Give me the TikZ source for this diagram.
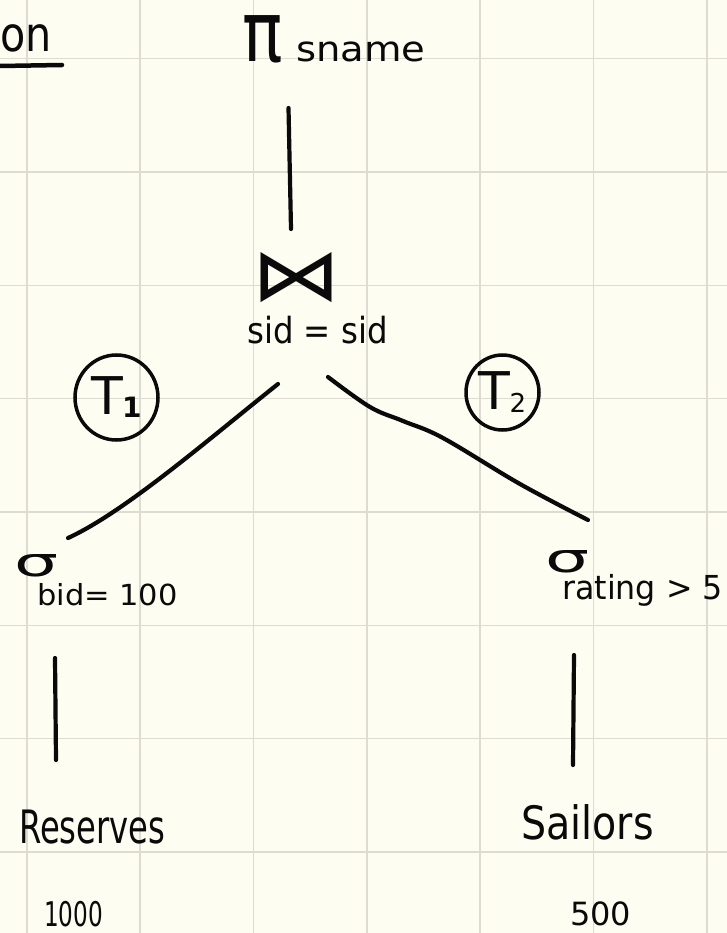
\documentclass[tikz,border=0pt]{standalone}
\usepackage{fontspec}
\setmainfont{DejaVu Sans}
\usepackage{graphicx}
\usetikzlibrary{shapes.geometric}

\definecolor{paper}{HTML}{FEFDF1}
\definecolor{gridline}{HTML}{DEDCD2}
\definecolor{ink}{HTML}{0A0A0A}

% #1 font size (pt), #2 horizontal stretch, #3 text
\newcommand{\hand}[3]{\scalebox{#2}[1]{\fontsize{#1}{#1}\selectfont #3}}

\tikzset{
  lbl/.style={inner sep=0pt, anchor=base west, text=ink},
  pen/.style={draw=ink, line width=4.2pt, line cap=round, line join=round},
  ring/.style={draw=ink, line width=3.5pt, ellipse, inner sep=0pt, text=ink},
  gridrule/.style={draw=gridline, line width=1.6pt},
}

\begin{document}
\begin{tikzpicture}[x=1pt,y=-1pt]
  % squared paper
  \fill[paper] (0,0) rectangle (727,933);
  \useasboundingbox (0,0) rectangle (727,933);
  \foreach \gx in {26.7,140,253.3,366.7,480,593.3,706.7}
    \draw[gridrule] (\gx,0) -- (\gx,933);
  \foreach \gy in {58.7,172,285.3,398.6,512,625.3,738.6,852}
    \draw[gridrule] (0,\gy) -- (727,\gy);

  % heading fragment with underline
  \node[lbl] (head) at (0,52) {\hand{48}{0.86}{on}};
  \draw[pen, line width=4.5pt] (0,66) -- (62,65);

  % projection
  \node[lbl] (pi) at (242,62) {\hand{84}{0.8}{π}};
  \node[lbl] (proj) at (296,62) {\hand{35}{1.1}{sname}};
  \coordinate (projfoot) at (288.5,108);
  \coordinate (joinhead) at (291,229);
  \draw[pen] (projfoot) -- (joinhead);

  % join
  \node[inner sep=0pt, text=ink] (join) at (296,278) {\resizebox{90pt}{48pt}{⋈}};
  \node[lbl] (joincond) at (247,343) {\hand{36}{0.9}{sid = sid}};

  % branches of the join
  \coordinate (jl) at (278,384);
  \coordinate (sl) at (68,538);
  \draw[pen] (jl) .. controls (210,438) and (125,512) .. (sl);
  \coordinate (jr) at (328,377);
  \coordinate (sr) at (588,520);
  \draw[pen] plot[smooth, tension=0.6] coordinates
    {(jr) (370,407) (403,421) (443,438) (520,484) (sr)};

  % intermediate results
  \node[ring, minimum width=83pt, minimum height=85pt] (t1) at (116.5,397.5)
    {\fontsize{52}{52}\selectfont T\kern-1pt\raisebox{-3pt}{\fontsize{28}{28}\selectfont\bfseries 1}};
  \node[ring, minimum width=73pt, minimum height=75pt] (t2) at (502.5,392.5)
    {\fontsize{52}{52}\selectfont T\kern-1pt\raisebox{-3pt}{\fontsize{26}{26}\selectfont 2}};

  % selections
  \node[lbl] (selL) at (14,576) {\resizebox{44pt}{22pt}{σ}};
  \node[lbl] (condL) at (37,605) {\hand{29}{1.05}{bid= 100}};
  \node[lbl] (selR) at (545,572) {\resizebox{44pt}{22pt}{σ}};
  \node[lbl] (condR) at (562,599) {\hand{33}{0.96}{rating > 5}};

  \coordinate (sLa) at (55,658);
  \coordinate (sLb) at (56,760);
  \draw[pen] (sLa) -- (sLb);
  \coordinate (sRa) at (574,655);
  \coordinate (sRb) at (573,765);
  \draw[pen] (sRa) -- (sRb);

  % base relations and their sizes
  \node[lbl] (res) at (19,843) {\hand{46}{0.7}{Reserves}};
  \node[lbl] (sai) at (521,839) {\hand{46}{0.86}{Sailors}};
  \node[lbl] (resn) at (44,926) {\hand{34}{0.68}{1000}};
  \node[lbl] (sain) at (570,925) {\hand{32}{1}{500}};
\end{tikzpicture}
\end{document}
